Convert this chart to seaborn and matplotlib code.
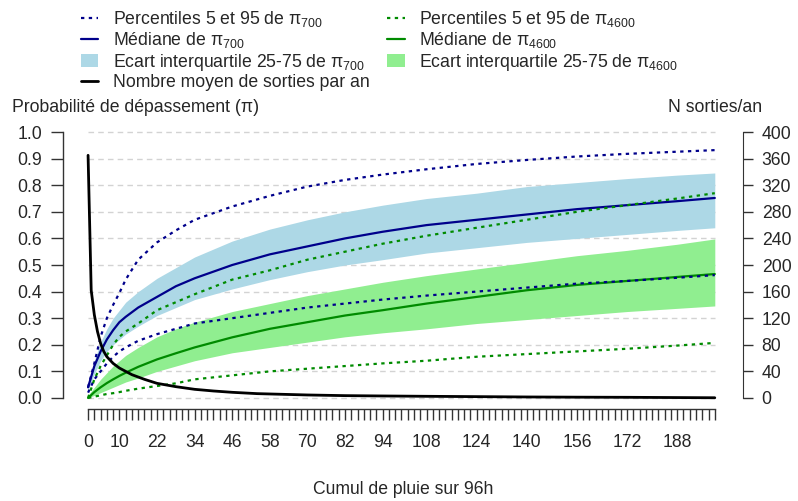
import matplotlib
matplotlib.use("Agg")
import matplotlib.pyplot as plt
from matplotlib.lines import Line2D
from matplotlib.patches import Patch
from matplotlib.ticker import FixedLocator, FixedFormatter
import numpy as np
import pandas as pd
import seaborn as sns

# Rain accumulation over 96h (x grid for the probability curves)
cumul = [0, 2, 4, 6, 8, 10, 12, 16, 22, 28, 34, 46, 58, 70, 82, 94,
         108, 124, 140, 156, 172, 188, 200]

# Exceedance probability pi_700: percentiles 5/25/50/75/95
p700_p95 = [0.04, 0.13, 0.23, 0.30, 0.35, 0.395, 0.445, 0.52, 0.585, 0.63, 0.67, 0.72,
            0.76, 0.795, 0.82, 0.84, 0.86, 0.88, 0.895, 0.908, 0.918, 0.926, 0.932]
p700_p75 = [0.05, 0.14, 0.21, 0.26, 0.30, 0.33, 0.36, 0.40, 0.45, 0.49, 0.53, 0.59,
            0.635, 0.67, 0.70, 0.725, 0.75, 0.77, 0.795, 0.81, 0.825, 0.838, 0.846]
p700_med = [0.04, 0.12, 0.175, 0.22, 0.255, 0.285, 0.305, 0.34, 0.38, 0.42, 0.45, 0.50,
            0.54, 0.57, 0.60, 0.625, 0.65, 0.67, 0.69, 0.71, 0.725, 0.74, 0.752]
p700_p25 = [0.03, 0.09, 0.14, 0.175, 0.20, 0.22, 0.24, 0.27, 0.31, 0.34, 0.37, 0.41,
            0.445, 0.475, 0.50, 0.52, 0.545, 0.565, 0.585, 0.60, 0.615, 0.63, 0.64]
p700_p05 = [0.02, 0.07, 0.10, 0.13, 0.155, 0.175, 0.19, 0.215, 0.24, 0.26, 0.28, 0.30,
            0.32, 0.34, 0.355, 0.37, 0.385, 0.40, 0.415, 0.43, 0.44, 0.452, 0.462]

# Exceedance probability pi_4600: percentiles 5/25/50/75/95
p4600_p95 = [0.0, 0.07, 0.12, 0.16, 0.20, 0.23, 0.25, 0.28, 0.33, 0.36, 0.39, 0.445,
             0.48, 0.52, 0.55, 0.58, 0.61, 0.64, 0.67, 0.70, 0.725, 0.75, 0.77]
p4600_p75 = [0.01, 0.04, 0.07, 0.095, 0.12, 0.14, 0.16, 0.19, 0.23, 0.26, 0.285, 0.325,
             0.355, 0.385, 0.41, 0.435, 0.46, 0.485, 0.51, 0.535, 0.555, 0.578, 0.598]
p4600_med = [0.0, 0.022, 0.04, 0.056, 0.07, 0.083, 0.095, 0.117, 0.145, 0.168, 0.19, 0.228,
             0.26, 0.285, 0.31, 0.33, 0.355, 0.38, 0.405, 0.425, 0.44, 0.455, 0.466]
p4600_p25 = [0.0, 0.01, 0.02, 0.03, 0.04, 0.05, 0.06, 0.075, 0.10, 0.12, 0.14, 0.17,
             0.19, 0.21, 0.23, 0.245, 0.26, 0.28, 0.295, 0.31, 0.325, 0.337, 0.346]
p4600_p05 = [0.0, 0.005, 0.01, 0.015, 0.018, 0.022, 0.027, 0.035, 0.045, 0.055, 0.07, 0.085,
             0.10, 0.11, 0.12, 0.13, 0.14, 0.155, 0.165, 0.175, 0.185, 0.197, 0.207]

# Mean number of exceedances per year (right axis)
cumul_n = [0, 1, 2, 3, 4, 5, 6, 8, 10, 12, 14, 18, 22, 28, 34, 40, 46, 54, 62, 70,
           82, 94, 108, 124, 140, 156, 172, 188, 200]
sorties_an = [365, 162, 125, 100, 82, 70, 62, 52, 45, 40, 35, 28, 22, 17, 13, 10.5, 8.5,
              6.5, 5.5, 4.5, 3.5, 3.0, 2.5, 2.0, 1.5, 1.2, 1.0, 0.6, 0.3]

xtick_pos = list(range(0, 201, 2))
xtick_shown = [0, 10, 22, 34, 46, 58, 70, 82, 94, 108, 124, 140, 156, 172, 188]
ytick_left = [0.0, 0.1, 0.2, 0.3, 0.4, 0.5, 0.6, 0.7, 0.8, 0.9, 1.0]
ytick_right = [0, 40, 80, 120, 160, 200, 240, 280, 320, 360, 400]

sns.set_style("white")
plt.rcParams["font.family"] = ["Liberation Sans", "DejaVu Sans"]
plt.rcParams["mathtext.fontset"] = "custom"
plt.rcParams["mathtext.rm"] = "Liberation Sans"
plt.rcParams["mathtext.it"] = "Liberation Sans"

FS = 12.7
BLUE = "#00008B"
BLUE_BAND = "#ADD8E6"
GREEN = "#008B00"
GREEN_BAND = "#90EE90"
AXC = "#333333"
DOT = (0, (1.5, 2.0))

df = pd.DataFrame({
    "cumul": cumul,
    "p700_p95": p700_p95, "p700_p75": p700_p75, "p700_med": p700_med,
    "p700_p25": p700_p25, "p700_p05": p700_p05,
    "p4600_p95": p4600_p95, "p4600_p75": p4600_p75, "p4600_med": p4600_med,
    "p4600_p25": p4600_p25, "p4600_p05": p4600_p05,
})
dfn = pd.DataFrame({"cumul": cumul_n, "n": sorties_an})

fig = plt.figure(figsize=(7.98, 5.01), dpi=100)
ax = fig.add_axes([63 / 798, (501 - 408.6) / 501, 680 / 798, 287.2 / 501])
ax.set_xlim(-8, 209)
ax.set_ylim(-0.04, 1.04)

# light dashed reference lines
for yv in ytick_left:
    ax.plot([0, 200], [yv, yv], color="#D3D3D3", lw=1.0, ls=(0, (4, 3)), zorder=0)

# interquartile bands
ax.fill_between(df["cumul"], df["p700_p25"], df["p700_p75"], color=BLUE_BAND, lw=0, zorder=1)
ax.fill_between(df["cumul"], df["p4600_p25"], df["p4600_p75"], color=GREEN_BAND, lw=0, zorder=1)

# medians and 5/95 percentiles
sns.lineplot(data=df, x="cumul", y="p700_med", ax=ax, color=BLUE, lw=1.6, zorder=3)
sns.lineplot(data=df, x="cumul", y="p4600_med", ax=ax, color=GREEN, lw=1.6, zorder=3)
for col, c in [("p700_p95", BLUE), ("p700_p05", BLUE), ("p4600_p95", GREEN), ("p4600_p05", GREEN)]:
    sns.lineplot(data=df, x="cumul", y=col, ax=ax, color=c, lw=1.6, linestyle=DOT, zorder=3)

ax.set_xlabel("")
ax.set_ylabel("")
for s in ["top", "right"]:
    ax.spines[s].set_visible(False)
ax.spines["left"].set_bounds(0, 1)
ax.spines["bottom"].set_bounds(0, 200)
for s in ["left", "bottom"]:
    ax.spines[s].set_color(AXC)
    ax.spines[s].set_linewidth(1.0)

ax.xaxis.set_major_locator(FixedLocator(xtick_pos))
ax.xaxis.set_major_formatter(FixedFormatter([str(v) if v in xtick_shown else "" for v in xtick_pos]))
ax.set_yticks(ytick_left)
ax.set_yticklabels([f"{v:.1f}" for v in ytick_left])
ax.tick_params(axis="x", direction="out", length=8, width=1, color=AXC,
               labelsize=FS, pad=10, bottom=True)
ax.tick_params(axis="y", direction="out", length=9, width=1, color=AXC,
               labelsize=FS, pad=6, left=True)

# right axis: mean number of exceedances per year
ax2 = ax.twinx()
ax2.set_ylim(-16, 416)
sns.lineplot(data=dfn, x="cumul", y="n", ax=ax2, color="black", lw=2.0, zorder=4)
ax2.set_xlabel("")
ax2.set_ylabel("")
for s in ["top", "left", "bottom"]:
    ax2.spines[s].set_visible(False)
ax2.spines["right"].set_bounds(0, 400)
ax2.spines["right"].set_color(AXC)
ax2.set_yticks(ytick_right)
ax2.set_yticklabels([str(v) for v in ytick_right])
ax2.tick_params(axis="y", direction="out", length=7.5, width=1, color=AXC,
                labelsize=FS, pad=6, right=True)
ax.set_xlim(-8, 209)

fig.text(12 / 798, 1 - 107 / 501, "Probabilité de dépassement (π)", fontsize=FS,
         ha="left", va="center")
fig.text(762 / 798, 1 - 107 / 501, "N sorties/an", fontsize=FS, ha="right", va="center")
fig.text(403 / 798, 1 - 489 / 501, "Cumul de pluie sur 96h", fontsize=FS,
         ha="center", va="center")

handles = [
    Line2D([], [], color=BLUE, lw=1.6, ls=DOT),
    Line2D([], [], color=BLUE, lw=1.6),
    Patch(facecolor=BLUE_BAND, edgecolor="none"),
    Line2D([], [], color="black", lw=2.0),
    Line2D([], [], color=GREEN, lw=1.6, ls=DOT),
    Line2D([], [], color=GREEN, lw=1.6),
    Patch(facecolor=GREEN_BAND, edgecolor="none"),
]
labels = [
    "Percentiles 5 et 95 de π$_{700}$",
    "Médiane de π$_{700}$",
    "Ecart interquartile 25-75 de π$_{700}$",
    "Nombre moyen de sorties par an",
    "Percentiles 5 et 95 de π$_{4600}$",
    "Médiane de π$_{4600}$",
    "Ecart interquartile 25-75 de π$_{4600}$",
]
fig.legend(handles, labels, ncol=2, loc="upper left", bbox_to_anchor=(72 / 798, 1.0),
           frameon=False, fontsize=FS, handlelength=1.0, handleheight=0.7,
           handletextpad=0.8, columnspacing=1.0, labelspacing=0.08, borderaxespad=0.1)

fig.savefig("out.png", dpi=100)
